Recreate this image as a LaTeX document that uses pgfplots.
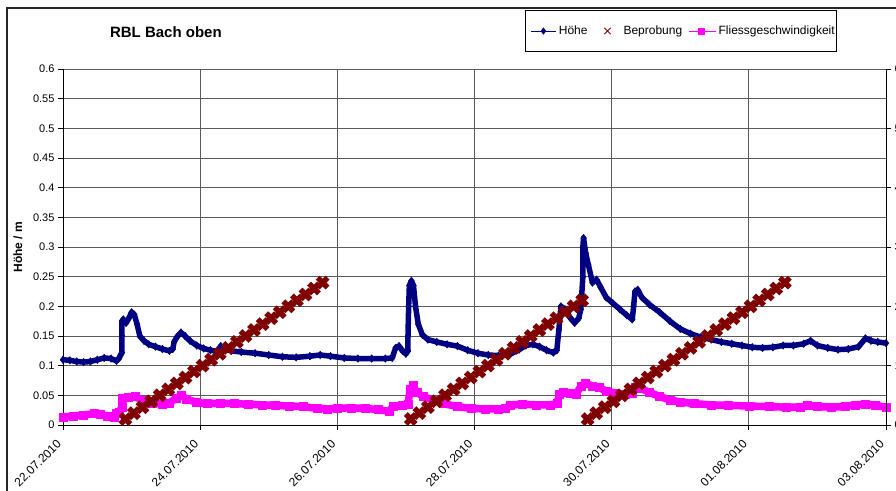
\documentclass[border=0pt]{standalone}
\usepackage{pgfplots}
\pgfplotsset{compat=1.18}
\usepackage{fontspec}
\setmainfont{Liberation Sans}
\definecolor{hoehe}{HTML}{000080}
\definecolor{bepro}{HTML}{800000}
\definecolor{fliess}{HTML}{FF00FF}
\definecolor{gridc}{HTML}{5A5A5A}

\pgfplotstableread{
x y
0.00 0.110
0.10 0.109
0.20 0.107
0.30 0.106
0.40 0.107
0.50 0.110
0.60 0.113
0.70 0.112
0.78 0.108
0.82 0.113
0.84 0.118
0.86 0.122
0.86 0.150
0.86 0.175
0.88 0.178
0.92 0.172
0.96 0.180
1.00 0.190
1.04 0.186
1.08 0.170
1.12 0.150
1.18 0.142
1.25 0.136
1.35 0.132
1.45 0.128
1.55 0.125
1.60 0.128
1.62 0.140
1.66 0.148
1.72 0.156
1.78 0.150
1.85 0.142
1.95 0.134
2.05 0.129
2.15 0.126
2.25 0.124
2.30 0.133
2.36 0.128
2.45 0.125
2.60 0.123
2.80 0.121
3.00 0.118
3.20 0.115
3.40 0.114
3.60 0.116
3.75 0.118
3.90 0.116
4.10 0.113
4.30 0.112
4.50 0.112
4.70 0.112
4.80 0.113
4.85 0.130
4.90 0.133
4.95 0.125
5.00 0.120
5.03 0.125
5.03 0.150
5.04 0.200
5.05 0.235
5.08 0.243
5.11 0.235
5.14 0.200
5.18 0.170
5.24 0.152
5.32 0.144
5.45 0.140
5.60 0.136
5.75 0.133
5.90 0.126
6.05 0.121
6.20 0.118
6.35 0.117
6.50 0.118
6.65 0.127
6.75 0.134
6.85 0.136
6.95 0.132
7.05 0.126
7.15 0.122
7.20 0.126
7.23 0.160
7.26 0.200
7.32 0.195
7.40 0.180
7.46 0.172
7.52 0.180
7.55 0.195
7.58 0.250
7.58 0.300
7.59 0.315
7.62 0.290
7.66 0.270
7.72 0.240
7.78 0.245
7.84 0.232
7.92 0.215
8.02 0.205
8.12 0.195
8.22 0.185
8.30 0.178
8.32 0.200
8.34 0.225
8.38 0.228
8.44 0.215
8.55 0.203
8.70 0.190
8.85 0.175
9.00 0.162
9.15 0.154
9.30 0.148
9.45 0.144
9.60 0.140
9.75 0.137
9.90 0.134
10.05 0.131
10.20 0.130
10.35 0.131
10.50 0.134
10.65 0.134
10.80 0.137
10.90 0.142
11.00 0.134
11.15 0.130
11.30 0.127
11.45 0.128
11.60 0.132
11.70 0.146
11.78 0.142
11.88 0.140
12.00 0.138
}\hoehedata

\pgfplotstableread{
x y
0.00 0.013
0.15 0.015
0.30 0.017
0.45 0.019
0.55 0.018
0.65 0.015
0.75 0.013
0.78 0.020
0.82 0.022
0.86 0.030
0.87 0.045
0.95 0.046
1.05 0.048
1.15 0.042
1.30 0.037
1.45 0.035
1.55 0.037
1.65 0.045
1.72 0.050
1.80 0.044
1.95 0.038
2.10 0.036
2.30 0.037
2.50 0.036
2.70 0.035
2.90 0.034
3.10 0.033
3.30 0.032
3.50 0.031
3.70 0.028
3.85 0.027
4.00 0.028
4.20 0.029
4.40 0.028
4.60 0.026
4.75 0.023
4.82 0.032
4.95 0.033
5.03 0.035
5.06 0.060
5.10 0.067
5.16 0.055
5.25 0.048
5.40 0.042
5.55 0.036
5.75 0.031
5.95 0.028
6.15 0.027
6.35 0.027
6.45 0.028
6.52 0.034
6.70 0.035
6.90 0.034
7.10 0.034
7.20 0.036
7.24 0.052
7.30 0.056
7.40 0.053
7.48 0.052
7.55 0.065
7.62 0.070
7.72 0.066
7.82 0.063
7.92 0.057
8.05 0.054
8.20 0.052
8.30 0.054
8.34 0.064
8.42 0.062
8.55 0.055
8.70 0.048
8.85 0.042
9.00 0.039
9.20 0.036
9.45 0.034
9.70 0.033
10.00 0.032
10.30 0.031
10.55 0.030
10.75 0.030
10.85 0.033
11.00 0.031
11.20 0.030
11.40 0.031
11.55 0.034
11.70 0.035
11.85 0.033
12.00 0.030
}\fliessdata

\pgfplotstableread{
x y
0.910 1
1.035 2
1.160 3
1.285 4
1.410 5
1.535 6
1.660 7
1.785 8
1.910 9
2.035 10
2.160 11
2.285 12
2.410 13
2.535 14
2.660 15
2.785 16
2.910 17
3.035 18
3.160 19
3.285 20
3.410 21
3.535 22
3.660 23
3.785 24
5.070 1
5.195 2
5.320 3
5.445 4
5.570 5
5.695 6
5.820 7
5.945 8
6.070 9
6.195 10
6.320 11
6.445 12
6.570 13
6.695 14
6.820 15
6.945 16
7.070 17
7.195 18
7.320 19
7.445 20
7.570 21
7.650 1
7.775 2
7.900 3
8.025 4
8.150 5
8.275 6
8.400 7
8.525 8
8.650 9
8.775 10
8.900 11
9.025 12
9.150 13
9.275 14
9.400 15
9.525 16
9.650 17
9.775 18
9.900 19
10.025 20
10.150 21
10.275 22
10.400 23
10.525 24
}\beprodata

\begin{document}
\begin{tikzpicture}
\begin{axis}[
  at={(0pt,0pt)}, anchor=south west,
  scale only axis, width=823pt, height=356pt,
  xmin=0, xmax=12, ymin=0, ymax=0.6,
  axis x line*=bottom, axis y line*=left,
  axis line style={black, line width=0.8pt},
  xtick={0,2,4,6,8,10,12},
  xticklabels={22.07.2010,24.07.2010,26.07.2010,28.07.2010,30.07.2010,01.08.2010,03.08.2010},
  ytick={0,0.05,0.1,0.15,0.2,0.25,0.3,0.35,0.4,0.45,0.5,0.55,0.6},
  yticklabel style={font=\fontsize{11}{13}\selectfont, /pgf/number format/fixed, /pgf/number format/precision=2, /pgf/number format/assume math mode=true},
  xticklabel style={xshift=-7pt, yshift=-6pt, rotate=45, anchor=north east, inner sep=2pt, font=\fontsize{12}{14}\selectfont},
  tick align=outside, major tick length=5pt,
  tick style={black, line width=0.8pt},
  grid=major, major grid style={gridc, line width=0.8pt},
  ylabel={Höhe / m},
  ylabel style={font=\bfseries\fontsize{12}{14}\selectfont, at={(axis description cs:-0.0547,0.5)}, anchor=center},
  title={RBL Bach oben},
  title style={font=\bfseries\fontsize{15}{18}\selectfont, at={(axis description cs:0.125,1.087)}, anchor=center},
  clip=false,
]
\addplot[hoehe, line width=5.5pt, line join=round, mark=diamond*, mark size=3.8pt, mark options={solid, hoehe, line width=0.5pt}] table[x=x,y=y] {\hoehedata};
\addplot[fliess, line width=7.5pt, line join=round, mark=square*, mark size=4pt, mark options={solid, fliess, line width=0.5pt}] table[x=x,y=y] {\fliessdata};
\end{axis}
\begin{axis}[
  at={(0pt,0pt)}, anchor=south west,
  scale only axis, width=823pt, height=356pt,
  xmin=0, xmax=12, ymin=0, ymax=60,
  axis x line=none, axis y line*=right,
  axis line style={black, line width=0.8pt},
  ytick={0,10,20,30,40,50,60},
  yticklabel style={font=\fontsize{11}{13}\selectfont, /pgf/number format/assume math mode=true},
  tick align=outside, major tick length=5pt,
  tick style={black, line width=0.8pt},
  clip=false,
  legend columns=3,
  legend style={at={(axis description cs:0.5614,1.1657)}, anchor=north west,
    draw=black, line width=0.8pt, fill=white,
    font=\fontsize{12}{14}\selectfont,
    inner xsep=1pt, inner ysep=14.5pt,
    nodes={inner sep=1pt},
    /tikz/every odd column/.append style={column sep=1pt},
    /tikz/every even column/.append style={column sep=2pt}},
]
\addlegendimage{legend image code/.code={
  \path[draw=none, fill=none] (0pt,0pt) -- (30pt,0pt);
  \draw[hoehe, line width=0.8pt] (5pt,0pt) -- (30pt,0pt);
  \draw[hoehe, mark=diamond*, mark size=3pt, only marks] plot coordinates {(17pt,0pt)};}}
\addlegendentry{Höhe}
\addlegendimage{legend image code/.code={
  \path[draw=none, fill=none] (0pt,0pt) -- (31pt,0pt);
  \draw[bepro, line width=0.8pt, mark=x, mark size=4.5pt, only marks] plot coordinates {(17pt,0pt)};}}
\addlegendentry{Beprobung}
\addlegendimage{legend image code/.code={
  \path[draw=none, fill=none] (0pt,0pt) -- (31pt,0pt);
  \draw[fliess, line width=0.8pt] (4pt,0pt) -- (31pt,0pt);
  \draw[fliess, mark=square*, mark size=3pt, only marks] plot coordinates {(16pt,0pt)};}}
\addlegendentry{Fliessgeschwindigkeit}
\addplot[forget plot, only marks, mark=x, mark size=7pt, line width=5.5pt, bepro] table[x=x,y=y] {\beprodata};
\end{axis}
\draw[black!85, line width=1.3pt] (-56pt,-70pt) -- (-56pt,417pt) -- (840pt,417pt);
\pgfresetboundingbox
\path[use as bounding box] (-63pt,-65pt) rectangle (833pt,425pt);
\end{tikzpicture}
\end{document}
